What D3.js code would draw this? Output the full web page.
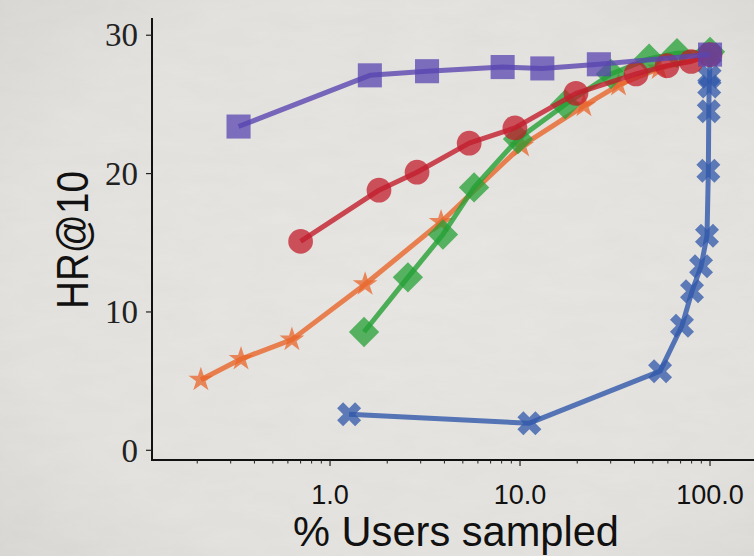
<!DOCTYPE html>
<html>
<head>
<meta charset="utf-8">
<script src="https://cdn.jsdelivr.net/npm/d3@7/dist/d3.min.js"></script>
<style>
    html, body { margin: 0; padding: 0; background: #e4e2de; }
    svg { display: block; }
</style>
</head>
<body>
<div id="chart"></div>
<script>
// Values (x = % users sampled, y = HR@10)
var blueX = [1.26, 11.2, 54.6, 71.2, 80.4, 89.7, 96.4, 98, 98.5, 99, 99.5, 100];
var blueY = [2.6, 1.96, 5.72, 9.0, 11.5, 13.3, 15.5, 20.2, 24.5, 26.3, 27.0, 28.6];

var orangeX = [0.209, 0.34, 0.63, 1.53, 3.84, 10.2, 21.7, 33, 54, 100];
var orangeY = [5.1, 6.6, 8.0, 12.0, 16.5, 22.0, 24.9, 26.4, 27.6, 28.5];

var greenX = [1.51, 2.57, 3.93, 5.73, 9.76, 17.3, 30.1, 47.8, 67, 100];
var greenY = [8.55, 12.5, 15.6, 19.0, 22.5, 25.0, 27.2, 28.3, 28.7, 28.8];

var redX = [0.70, 1.81, 2.87, 5.4, 9.4, 19.7, 40.8, 59.4, 79.5, 100];
var redY = [15.1, 18.8, 20.1, 22.2, 23.3, 25.8, 27.2, 27.8, 28.1, 28.6];

var purpleX = [0.33, 1.62, 3.24, 8.1, 13.1, 26, 100];
var purpleY = [23.4, 27.1, 27.4, 27.7, 27.6, 27.9, 28.6];

var yTicks = [0, 10, 20, 30];
var xMajorTicks = [1, 10, 100];
var xMinorTicks = [0.2, 0.3, 0.4, 0.5, 0.6, 0.7, 0.8, 0.9, 2, 3, 4, 5, 6, 7, 8, 9, 20, 30, 40, 50, 60, 70, 80, 90];

var xLabel = "% Users sampled";
var yLabel = "HR@10";

var width = 754, height = 556;

var svg = d3.select("#chart").append("svg")
    .attr("width", width)
    .attr("height", height);

// Paper background
var defs = svg.append("defs");
var grad = defs.append("radialGradient").attr("id", "vign")
    .attr("cx", "55%").attr("cy", "50%").attr("r", "75%");
grad.append("stop").attr("offset", "0%").attr("stop-color", "#e9e7e3");
grad.append("stop").attr("offset", "70%").attr("stop-color", "#e5e3df");
grad.append("stop").attr("offset", "100%").attr("stop-color", "#dad8d4");

var noise = defs.append("filter").attr("id", "paper")
    .attr("x", 0).attr("y", 0).attr("width", "100%").attr("height", "100%");
noise.append("feTurbulence")
    .attr("type", "fractalNoise")
    .attr("baseFrequency", "0.02 0.06")
    .attr("numOctaves", 3)
    .attr("seed", 4);
noise.append("feColorMatrix")
    .attr("type", "matrix")
    .attr("values", "0 0 0 0 0.45  0 0 0 0 0.44  0 0 0 0 0.42  0 0 0 0.09 0");

svg.append("rect").attr("width", width).attr("height", height).attr("fill", "url(#vign)");
svg.append("rect").attr("width", width).attr("height", height).attr("filter", "url(#paper)");

// Scales
var x = d3.scaleLog()
    .domain([0.1156, 170.4])
    .range([152, 754]);

var y = d3.scaleLinear()
    .domain([-0.7, 31.1])
    .range([460, 20]);

// Axes
var xAxis = svg.append("g")
    .attr("transform", "translate(0," + 460 + ")");

xAxis.append("line")
    .attr("x1", 151).attr("x2", width)
    .attr("stroke", "#111").attr("stroke-width", 2);

xAxis.selectAll("line.minor")
    .data(xMinorTicks)
    .enter()
    .append("line")
    .attr("class", "minor")
    .attr("x1", function (d) { return x(d); })
    .attr("x2", function (d) { return x(d); })
    .attr("y1", 0).attr("y2", 3.5)
    .attr("stroke", "#222").attr("stroke-width", 1);

xAxis.selectAll("line.major")
    .data(xMajorTicks)
    .enter()
    .append("line")
    .attr("class", "major")
    .attr("x1", function (d) { return x(d); })
    .attr("x2", function (d) { return x(d); })
    .attr("y1", 0).attr("y2", 6)
    .attr("stroke", "#222").attr("stroke-width", 1.2);

xAxis.selectAll("text")
    .data(xMajorTicks)
    .enter()
    .append("text")
    .attr("x", function (d) { return x(d); })
    .attr("y", 44)
    .attr("text-anchor", "middle")
    .style("font-family", "'Liberation Sans', Arial, sans-serif")
    .style("font-size", "27px")
    .attr("fill", "#111")
    .text(function (d) { return d3.format(".1f")(d); });

var yAxis = svg.append("g")
    .attr("transform", "translate(" + 152 + ",0)");

yAxis.append("line")
    .attr("y1", 18).attr("y2", 461)
    .attr("stroke", "#111").attr("stroke-width", 2);

yAxis.selectAll("line.tick")
    .data(yTicks)
    .enter()
    .append("line")
    .attr("class", "tick")
    .attr("y1", function (d) { return y(d); })
    .attr("y2", function (d) { return y(d); })
    .attr("x1", -6).attr("x2", 0)
    .attr("stroke", "#222").attr("stroke-width", 1.2);

yAxis.selectAll("text")
    .data(yTicks)
    .enter()
    .append("text")
    .attr("x", -14)
    .attr("y", function (d) { return y(d); })
    .attr("dy", "0.34em")
    .attr("text-anchor", "end")
    .style("font-family", "'Liberation Serif', 'DejaVu Serif', serif")
    .style("font-size", "33px")
    .attr("fill", "#222")
    .text(function (d) { return d; });

// Axis labels
svg.append("text")
    .attr("x", 456)
    .attr("y", 546)
    .attr("text-anchor", "middle")
    .attr("textLength", 326)
    .attr("lengthAdjust", "spacingAndGlyphs")
    .style("font-family", "'Liberation Sans', Arial, sans-serif")
    .style("font-size", "42px")
    .attr("fill", "#111")
    .text(xLabel);

svg.append("text")
    .attr("transform", "translate(" + 88 + "," + 240 + ") rotate(-90)")
    .attr("text-anchor", "middle")
    .attr("textLength", 138)
    .attr("lengthAdjust", "spacingAndGlyphs")
    .style("font-family", "'Liberation Sans', Arial, sans-serif")
    .style("font-size", "44px")
    .attr("fill", "#111")
    .text(yLabel);

// Series
var series = [
    { xs: blueX, ys: blueY, color: "#2f57aa", symbol: d3.symbolCross, size: 360, rotate: 45 },
    { xs: orangeX, ys: orangeY, color: "#e8652b", symbol: d3.symbolStar, size: 190, rotate: 0 },
    { xs: greenX, ys: greenY, color: "#24a035", symbol: d3.symbolSquare, size: 460, rotate: 45 },
    { xs: redX, ys: redY, color: "#c21d2c", symbol: d3.symbolCircle, size: 480, rotate: 0 },
    { xs: purpleX, ys: purpleY, color: "#5a46b0", symbol: d3.symbolSquare, size: 580, rotate: 0 }
];

var line = d3.line()
    .x(function (d) { return x(d[0]); })
    .y(function (d) { return y(d[1]); });

series.forEach(function (s) {
    var pts = s.xs.map(function (v, i) { return [v, s.ys[i]]; });
    var g = svg.append("g");

    g.append("path")
        .datum(pts)
        .attr("d", line)
        .attr("fill", "none")
        .attr("stroke", s.color)
        .attr("stroke-width", 5)
        .attr("stroke-linejoin", "round")
        .attr("opacity", 0.8);

    g.selectAll("path.mark")
        .data(pts)
        .enter()
        .append("path")
        .attr("class", "mark")
        .attr("d", d3.symbol().type(s.symbol).size(s.size))
        .attr("transform", function (d) {
            return "translate(" + x(d[0]) + "," + y(d[1]) + ") rotate(" + s.rotate + ")";
        })
        .attr("fill", s.color)
        .attr("opacity", 0.75);
});
</script>
</body>
</html>
